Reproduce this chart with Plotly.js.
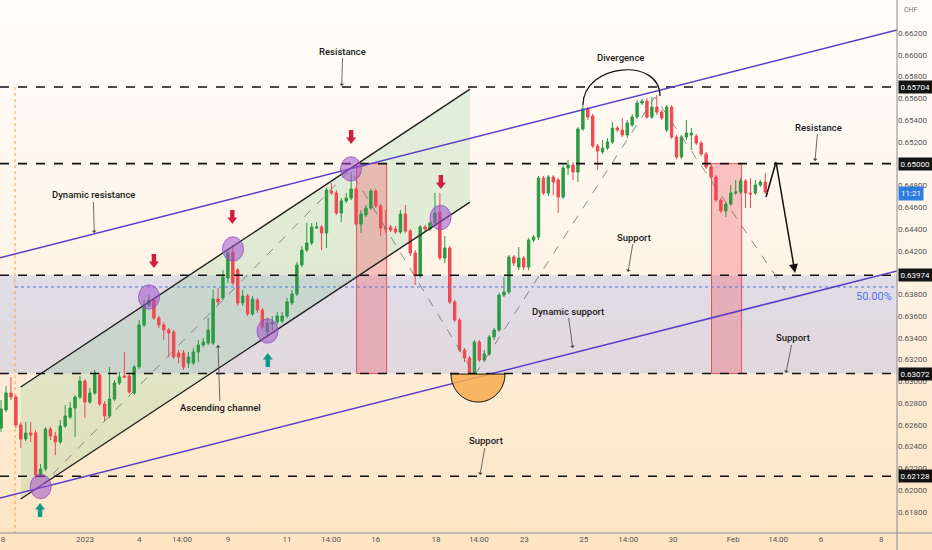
<!DOCTYPE html>
<html><head><meta charset="utf-8">
<script src="https://cdn.plot.ly/plotly-3.0.1.min.js"></script>
<style>
html,body{margin:0;padding:0;background:#fff;}
#chart{width:932px;height:550px;background:linear-gradient(to bottom,#fffdfa 0%,#fef6eb 40%,#fdebd2 75%,#fde4c2 100%);}
</style></head><body><div id="chart"></div>
<script>
// ---- OHLC (4H candles) ----
const open=[0.62571,0.62737,0.62893,0.62856,0.62599,0.62470,0.62526,0.62526,0.62140,0.62195,
0.62562,0.62498,0.62443,0.62590,0.62672,0.62755,0.62856,0.63003,0.62810,0.62893,
0.63058,0.62792,0.62682,0.62838,0.62985,0.63049,0.63049,0.62893,0.63132,0.63518,
0.63701,0.63747,0.63582,0.63518,0.63472,0.63453,0.63260,0.63260,0.63168,0.63168,
0.63270,0.63334,0.63352,0.63352,0.63756,0.63766,0.63949,0.64188,0.64023,0.63720,
0.63784,0.63619,0.63747,0.63655,0.63453,0.63527,0.63545,0.63554,0.63600,0.63720,
0.63802,0.64069,0.64206,0.64271,0.64409,0.64418,0.64363,0.64748,0.64730,0.64546,
0.64657,0.64684,0.64767,0.64445,0.64528,0.64592,0.64748,0.64611,0.64409,0.64418,
0.64399,0.64372,0.64537,0.64381,0.64179,0.63968,0.64418,0.64399,0.64455,0.64556,
0.64133,0.64225,0.63729,0.63563,0.63288,0.63214,0.63077,0.63361,0.63196,0.63251,
0.63408,0.63472,0.63793,0.63821,0.64142,0.64050,0.64133,0.64050,0.64298,0.64326,
0.64868,0.64730,0.64877,0.64850,0.64693,0.64960,0.64987,0.64923,0.65318,0.65502,
0.65437,0.65162,0.65107,0.65143,0.65199,0.65327,0.65309,0.65263,0.65355,0.65428,
0.65557,0.65575,0.65428,0.65520,0.65474,0.65309,0.65520,0.65245,0.65061,0.65245,
0.65263,0.65254,0.65189,0.65088,0.64969,0.64877,0.64666,0.64565,0.64629,0.64730,
0.64739,0.64840,0.64730,0.64730,0.64804,0.64831];
const high=[0.62829,0.62957,0.63040,0.62875,0.62627,0.62627,0.62627,0.62553,0.62241,0.62581,
0.62581,0.62535,0.62645,0.62783,0.62810,0.62875,0.63049,0.63022,0.62939,0.63104,
0.63077,0.62819,0.63132,0.63012,0.63086,0.63270,0.63067,0.63150,0.63563,0.63747,
0.63793,0.63766,0.63600,0.63545,0.63490,0.63472,0.63288,0.63288,0.63270,0.63306,
0.63380,0.63398,0.63582,0.63839,0.63857,0.64023,0.64206,0.64252,0.64041,0.63839,
0.63802,0.63784,0.63766,0.63674,0.63582,0.63600,0.63637,0.63637,0.63766,0.63839,
0.64096,0.64243,0.64455,0.64455,0.64464,0.64436,0.64776,0.64822,0.64758,0.64684,
0.64730,0.64923,0.64785,0.64574,0.64620,0.64767,0.64767,0.64629,0.64574,0.64436,
0.64427,0.64574,0.64620,0.64399,0.64206,0.64436,0.64436,0.64473,0.64730,0.64730,
0.64335,0.64243,0.63747,0.63582,0.63306,0.63233,0.63380,0.63380,0.63288,0.63426,
0.63490,0.63812,0.63959,0.64161,0.64161,0.64234,0.64151,0.64317,0.64344,0.64886,
0.64886,0.64895,0.64895,0.64868,0.64987,0.65033,0.65015,0.65336,0.65538,0.65520,
0.65456,0.65180,0.65217,0.65235,0.65382,0.65346,0.65419,0.65401,0.65456,0.65584,
0.65594,0.65603,0.65612,0.65630,0.65493,0.65538,0.65538,0.65263,0.65263,0.65401,
0.65327,0.65272,0.65208,0.65107,0.64987,0.64895,0.64684,0.64647,0.64804,0.64850,
0.64868,0.64859,0.64868,0.64850,0.64850,0.64914];
const low=[0.62535,0.62718,0.62829,0.62571,0.62388,0.62452,0.62443,0.62112,0.62121,0.62176,
0.62461,0.62323,0.62424,0.62571,0.62654,0.62489,0.62838,0.62663,0.62792,0.62875,
0.62774,0.62636,0.62663,0.62819,0.62967,0.63031,0.62884,0.62875,0.63113,0.63499,
0.63683,0.63563,0.63490,0.63380,0.63224,0.63205,0.63168,0.63104,0.63123,0.63150,
0.63178,0.63315,0.63334,0.63334,0.63701,0.63747,0.63903,0.63885,0.63692,0.63692,
0.63600,0.63600,0.63628,0.63472,0.63417,0.63472,0.63518,0.63536,0.63582,0.63701,
0.63784,0.64050,0.64188,0.64252,0.64399,0.64206,0.64225,0.64712,0.64528,0.64464,
0.64638,0.64666,0.64427,0.64363,0.64510,0.64574,0.64592,0.64335,0.64363,0.64372,
0.64354,0.64354,0.64363,0.64151,0.63885,0.63949,0.64381,0.64381,0.64436,0.64115,
0.64087,0.63710,0.63545,0.63270,0.63178,0.63049,0.63040,0.63178,0.63178,0.63233,
0.63380,0.63453,0.63775,0.63802,0.64060,0.64023,0.64023,0.64023,0.64280,0.64298,
0.64712,0.64703,0.64712,0.64546,0.64675,0.64895,0.64850,0.64831,0.65300,0.65401,
0.65143,0.64941,0.65088,0.65125,0.65180,0.65290,0.65245,0.65235,0.65336,0.65410,
0.65538,0.65410,0.65410,0.65447,0.65401,0.65290,0.65226,0.65042,0.65042,0.65217,
0.65125,0.65171,0.65070,0.64951,0.64859,0.64647,0.64546,0.64510,0.64611,0.64712,
0.64721,0.64592,0.64592,0.64712,0.64785,0.64721];
const close=[0.62746,0.62893,0.62856,0.62599,0.62470,0.62526,0.62507,0.62140,0.62195,0.62562,
0.62498,0.62443,0.62590,0.62682,0.62755,0.62856,0.63003,0.62810,0.62893,0.63077,
0.62792,0.62682,0.62838,0.62985,0.63040,0.63040,0.62902,0.63132,0.63518,0.63701,
0.63747,0.63582,0.63518,0.63472,0.63444,0.63224,0.63224,0.63132,0.63224,0.63270,
0.63334,0.63361,0.63472,0.63756,0.63729,0.63959,0.64179,0.63903,0.63720,0.63784,
0.63619,0.63756,0.63655,0.63499,0.63536,0.63545,0.63600,0.63600,0.63729,0.63802,
0.64069,0.64206,0.64271,0.64418,0.64418,0.64363,0.64758,0.64730,0.64546,0.64657,
0.64684,0.64767,0.64445,0.64537,0.64592,0.64748,0.64611,0.64409,0.64399,0.64390,
0.64372,0.64537,0.64381,0.64179,0.63968,0.64418,0.64399,0.64455,0.64546,0.64133,
0.64225,0.63729,0.63563,0.63288,0.63214,0.63077,0.63361,0.63196,0.63251,0.63408,
0.63472,0.63793,0.63821,0.64142,0.64087,0.64133,0.64050,0.64298,0.64326,0.64868,
0.64730,0.64877,0.64831,0.64693,0.64960,0.64987,0.64923,0.65318,0.65502,0.65428,
0.65162,0.65116,0.65143,0.65199,0.65327,0.65309,0.65263,0.65373,0.65428,0.65557,
0.65575,0.65428,0.65520,0.65474,0.65419,0.65520,0.65245,0.65061,0.65245,0.65281,
0.65281,0.65189,0.65088,0.64969,0.64877,0.64666,0.64565,0.64629,0.64730,0.64739,
0.64840,0.64730,0.64721,0.64804,0.64831,0.64739];

// ---- axis ticks ----
const tickPos=[0.39,17.0,28.0,36.7,46.0,58.0,66.9,76.0,88.2,96.9,106.1,118.2,127.2,136.3,148.5,157.6,166.3,178.5];
const tickText=["8","2023","4","14:00","9","11","14:00","16","18","14:00","23","25","14:00","30","Feb","14:00","6","8"];
const priceTicks=[0.618,0.620,0.622,0.624,0.626,0.628,0.630,0.632,0.634,0.636,0.638,0.642,0.644,0.646,0.648,0.652,0.654,0.656,0.658,0.660,0.662];

// ---- horizontal levels ----
const levels=[0.65704,0.65000,0.63974,0.63072,0.62128];
const fibLevel=0.63867;
const zone=[0.63072,0.63974];

// ---- drawings (candle index, price) ----
const chanX=[3.98,95.11];
const chanUpperY=[0.62948,0.65685];
const chanLowerY=[0.61919,0.64647];
const dynX=[-0.22,181.72];
const dynResY=[0.64135,0.66227];
const dynSupY=[0.61928,0.64014];
const zigX=[7.9,70.8,96.1,132.6,159.0];
const zigY=[0.62029,0.64941,0.63058,0.65612,0.63839];
const boxX=[[72.1,78.2],[144.1,150.2]];
const boxY=[0.63072,0.65000];
const circX=[8.03,30.0,47.04,54.04,70.97,89.13];
const circY=[0.62034,0.63775,0.64216,0.63462,0.64951,0.64505];
const downX=[31.0,46.9,71.0,89.2];
const downY=[0.64041,0.64445,0.65180,0.64767];
const upX=[7.9,54.1];
const upY=[0.61882,0.63260];
const noteText=["Resistance","Dynamic resistance","Ascending channel","Support","Dynamic support","Resistance","Support","Support"];
const noteX=[69.09,18.9,44.0,127.16,115.95,165.09,159.2,97.14];
const noteY=[0.65713,0.64363,0.63334,0.64004,0.63306,0.65024,0.63077,0.62140];
const noteAx=[1,-1,2,6,-5,3,7,6];
const noteAy=[-35,-38,63,-35,-37,-34,-35,-34];
const projX=[155.15,157.18,161.04];
const projY=[0.64693,0.65015,0.63995];

const x=open.map((_,i)=>i);
const FONT='Roboto, sans-serif';
const PXX=1/4.93, PXY=0.00009186; // one screen pixel in axis units

const trace={type:'candlestick',x:x,open:open,high:high,low:low,close:close,
  increasing:{line:{color:'#2b9a44',width:1},fillcolor:'#2b9a44'},
  decreasing:{line:{color:'#f0484f',width:1},fillcolor:'#f0484f'},
  whiskerwidth:0,hoverinfo:'skip',showlegend:false};

function arrowPath(ax,ay,dir){
  const pts=[[-2.2,-14],[2.2,-14],[2.2,-6.5],[5,-6.5],[0,0],[-5,-6.5],[-2.2,-6.5]];
  return 'M'+pts.map(p=>(ax+p[0]*PXX).toFixed(3)+','+(ay-dir*p[1]*PXY).toFixed(6)).join(' L')+' Z';
}

const shapes=[];
shapes.push({type:'rect',xref:'paper',x0:0,x1:1,yref:'y',y0:zone[0],y1:zone[1],fillcolor:'rgba(160,170,235,0.30)',line:{width:0},layer:'below'});
shapes.push({type:'path',xref:'x',yref:'y',layer:'below',
  path:`M${chanX[0]},${chanUpperY[0]} L${chanX[1]},${chanUpperY[1]} L${chanX[1]},${chanLowerY[1]} L${chanX[0]},${chanLowerY[0]} Z`,
  fillcolor:'rgba(110,195,130,0.20)',line:{width:0}});
boxX.forEach(b=>shapes.push({type:'rect',xref:'x',yref:'y',x0:b[0],x1:b[1],y0:boxY[0],y1:boxY[1],fillcolor:'rgba(240,80,95,0.32)',line:{color:'rgba(230,60,75,0.85)',width:1},layer:'below'}));
shapes.push({type:'line',xref:'x',yref:'y',x0:2.82,x1:2.82,y0:levels[0],y1:0.61,line:{color:'#f2a04e',width:1,dash:'dot'},layer:'below'});
shapes.push({type:'line',xref:'x',yref:'y',x0:2.82,x1:190,y0:fibLevel,y1:fibLevel,line:{color:'#4f76e8',width:1,dash:'dot'}});
levels.forEach(v=>shapes.push({type:'line',xref:'paper',x0:0,x1:1,yref:'y',y0:v,y1:v,line:{color:'#111',width:1.6,dash:'dash'}}));
shapes.push({type:'line',xref:'x',yref:'y',x0:chanX[0],x1:chanX[1],y0:chanUpperY[0],y1:chanUpperY[1],line:{color:'#1f1f1f',width:1.4}});
shapes.push({type:'line',xref:'x',yref:'y',x0:chanX[0],x1:chanX[1],y0:chanLowerY[0],y1:chanLowerY[1],line:{color:'#1f1f1f',width:1.4}});
shapes.push({type:'line',xref:'x',yref:'y',x0:dynX[0],x1:dynX[1],y0:dynResY[0],y1:dynResY[1],line:{color:'#5a3ec8',width:1.5}});
shapes.push({type:'line',xref:'x',yref:'y',x0:dynX[0],x1:dynX[1],y0:dynSupY[0],y1:dynSupY[1],line:{color:'#5a3ec8',width:1.5}});
shapes.push({type:'path',xref:'x',yref:'y',path:'M'+zigX.map((v,i)=>v+','+zigY[i]).join(' L'),line:{color:'rgba(110,110,110,0.8)',width:1,dash:'dash'}});
circX.forEach((c,i)=>shapes.push({type:'circle',xref:'x',yref:'y',x0:c-2.13,x1:c+2.13,y0:circY[i]-0.00112,y1:circY[i]+0.00112,fillcolor:'rgba(160,80,205,0.55)',line:{color:'rgba(140,70,190,0.7)',width:1}}));
shapes.push({type:'path',xref:'x',yref:'y',path:'M118.03,0.65538 C118.03,0.65920 133.65,0.65985 133.65,0.65621',line:{color:'#111',width:1.2}});
shapes.push({type:'path',xref:'x',yref:'y',path:'M91.26,0.63067 C91.26,0.62925 93.71,0.62810 96.73,0.62810 C99.76,0.62810 102.21,0.62925 102.21,0.63067 Z',fillcolor:'rgba(247,172,80,0.85)',line:{color:'#111',width:1}});
shapes.push({type:'line',xref:'x',yref:'y',x0:projX[0],x1:projX[1],y0:projY[0],y1:projY[1],line:{color:'#111',width:1.5}});
downX.forEach((v,i)=>shapes.push({type:'path',xref:'x',yref:'y',path:arrowPath(v,downY[i],1),fillcolor:'#d31f3d',line:{width:0}}));
upX.forEach((v,i)=>shapes.push({type:'path',xref:'x',yref:'y',path:arrowPath(v,upY[i],-1),fillcolor:'#12998c',line:{width:0}}));
shapes.push({type:'line',xref:'paper',yref:'paper',x0:1,x1:1,y0:-0.04,y1:1.02,line:{color:'#8a8a8a',width:1}});
shapes.push({type:'line',xref:'paper',yref:'paper',x0:0,x1:1.05,y0:0,y1:0,line:{color:'#8a8a8a',width:1}});

const ann=[];
noteText.forEach((t,i)=>ann.push({x:noteX[i],y:noteY[i],xref:'x',yref:'y',text:t,showarrow:true,ax:noteAx[i],ay:noteAy[i],
  arrowhead:1,arrowsize:1,arrowwidth:0.8,arrowcolor:'#444',standoff:0,font:{family:FONT,size:9.5,weight:500,color:'#1a1a1a'}}));
ann.push({x:125.7,y:0.65979,xref:'x',yref:'y',text:'Divergence',showarrow:false,font:{family:FONT,size:9.5,weight:500,color:'#1a1a1a'}});
ann.push({x:projX[2],y:projY[2],xref:'x',yref:'y',text:'',showarrow:true,ax:-19,ay:-111,arrowhead:2,arrowsize:1.2,arrowwidth:1.5,arrowcolor:'#111',standoff:0});
ann.push({xref:'paper',x:1,xanchor:'right',xshift:-3,yref:'y',y:0.63775,text:'50.00%',showarrow:false,font:{family:FONT,size:11,color:'#4f76e8'}});
levels.forEach(v=>ann.push({xref:'paper',x:1,xanchor:'left',xshift:1,yref:'y',y:v,text:v.toFixed(5),showarrow:false,bgcolor:'#131313',borderpad:1.5,font:{family:FONT,size:8,color:'#fff'}}));
ann.push({xref:'paper',x:1,xanchor:'left',xshift:1,yref:'y',y:0.64730,text:'11:21',showarrow:false,bgcolor:'#2f7de0',borderpad:2,font:{family:FONT,size:8,color:'#fff'}});
ann.push({xref:'paper',x:1,xanchor:'left',xshift:5,yref:'paper',y:1,yanchor:'top',yshift:-4,text:'CHF',showarrow:false,font:{family:FONT,size:7,color:'#777'}});

const layout={width:932,height:550,margin:{l:0,r:35,t:0,b:17},
  paper_bgcolor:'rgba(0,0,0,0)',plot_bgcolor:'rgba(0,0,0,0)',
  showlegend:false,hovermode:false,dragmode:false,
  font:{family:FONT,size:8,color:'#555'},
  xaxis:{range:[-0.223,181.72],tickmode:'array',tickvals:tickPos,ticktext:tickText,showgrid:false,zeroline:false,
    showline:false,ticks:'',tickfont:{family:FONT,size:8,color:'#555'},rangeslider:{visible:false},fixedrange:true},
  yaxis:{range:[0.61607,0.66503],side:'right',tickmode:'array',tickvals:priceTicks,ticktext:priceTicks.map(v=>v.toFixed(5)),
    showgrid:false,zeroline:false,showline:false,ticks:'',tickfont:{family:FONT,size:8,color:'#555'},fixedrange:true},
  shapes:shapes,annotations:ann};

Plotly.newPlot('chart',[trace],layout,{displayModeBar:false,staticPlot:true});
</script></body></html>
